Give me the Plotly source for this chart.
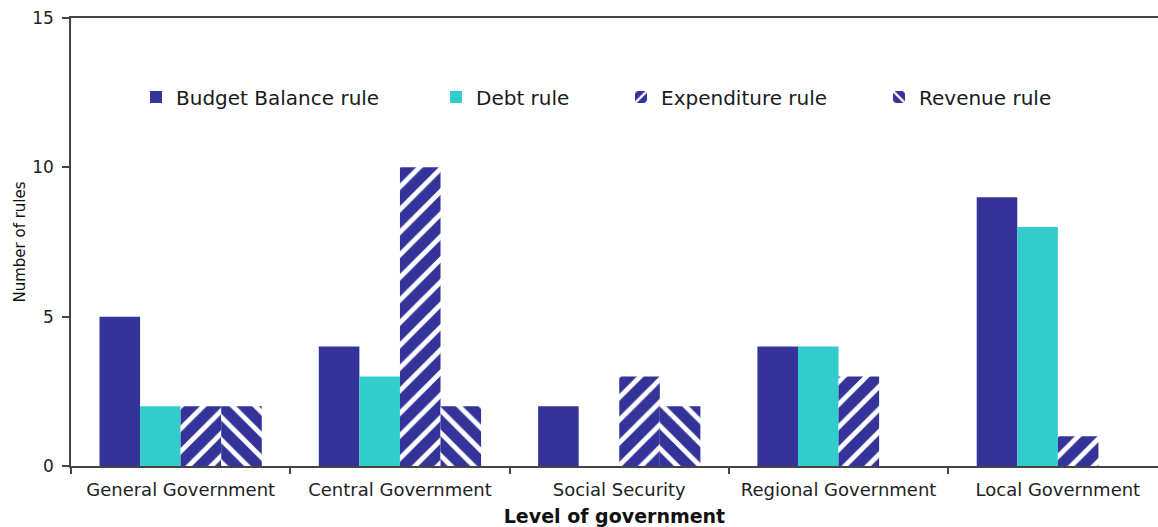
import plotly.graph_objects as go

levels = ["General Government", "Central Government", "Social Security",
          "Regional Government", "Local Government"]
budget_balance = [5, 4, 2, 4, 9]
debt = [2, 3, 0, 4, 8]
expenditure = [2, 10, 3, 3, 1]
revenue = [2, 2, 2, 0, 0]

NAVY = "#333399"
CYAN = "#33CCCC"
AXIS = "#444444"
FONT = "DejaVu Sans"

W, H = 1158, 527
L, R, T, B = 71, 0, 18, 61
plot_w = W - L - R
plot_h = H - T - B


def px_x(px):
    return (px - L) / plot_w


def px_y(py):
    return 1 - (py - T) / plot_h


fig = go.Figure()
fig.add_trace(go.Bar(name="Budget Balance rule", x=levels, y=budget_balance,
                     marker=dict(color=NAVY, line=dict(width=0)), legend="legend"))
fig.add_trace(go.Bar(name="Debt rule", x=levels, y=debt,
                     marker=dict(color=CYAN, line=dict(width=0)), legend="legend2"))
fig.add_trace(go.Bar(name="Expenditure rule", x=levels, y=expenditure,
                     marker=dict(color=NAVY, line=dict(width=0),
                                 pattern=dict(shape="/", fgcolor="white", bgcolor=NAVY,
                                              size=16, solidity=0.3, fillmode="replace")),
                     legend="legend3"))
fig.add_trace(go.Bar(name="Revenue rule", x=levels, y=revenue,
                     marker=dict(color=NAVY, line=dict(width=0),
                                 pattern=dict(shape="\\", fgcolor="white", bgcolor=NAVY,
                                              size=16, solidity=0.3, fillmode="replace")),
                     legend="legend4"))
fig.update_traces(showlegend=True)

legend_y = px_y(97)
legend_common = dict(orientation="h", yanchor="middle", y=legend_y, xanchor="left",
                     bgcolor="rgba(0,0,0,0)", font=dict(family=FONT, size=20, color="#1a1a1a"))
swatch_left = [150, 450, 635, 893]

fig.update_layout(
    width=W, height=H,
    margin=dict(l=L, r=R, t=T, b=B, pad=0),
    paper_bgcolor="white", plot_bgcolor="white",
    showlegend=True,
    barmode="group", bargap=0.26, bargroupgap=0,
    font=dict(family=FONT, color="#222222"),
    legend=dict(x=px_x(swatch_left[0] - 14), **legend_common),
    legend2=dict(x=px_x(swatch_left[1] - 14), **legend_common),
    legend3=dict(x=px_x(swatch_left[2] - 14), **legend_common),
    legend4=dict(x=px_x(swatch_left[3] - 14), **legend_common),
    xaxis=dict(
        type="category", range=[-0.5, -0.5 + plot_w / 219.3],
        showline=True, linecolor=AXIS, linewidth=1.5, mirror=True,
        ticks="outside", tickson="boundaries", ticklen=6, tickcolor=AXIS, tickwidth=1.5,
        ticklabelstandoff=7,
        tickfont=dict(family=FONT, size=18, color="#222222"),
        showgrid=False, zeroline=False,
        title=dict(text="<b>Level of government</b>", standoff=10,
                   font=dict(family=FONT, size=19, color="#111111")),
    ),
    yaxis=dict(
        range=[0, 15], tickvals=[0, 5, 10, 15],
        showline=True, linecolor=AXIS, linewidth=1.5,
        ticks="outside", ticklen=7, tickcolor=AXIS, tickwidth=1.5,
        ticklabelstandoff=5,
        tickfont=dict(family=FONT, size=17, color="#222222"),
        showgrid=False, zeroline=False,
        title=dict(text="Number of rules", standoff=3,
                   font=dict(family=FONT, size=15, color="#111111")),
    ),
)

fig.write_html("out.html")
